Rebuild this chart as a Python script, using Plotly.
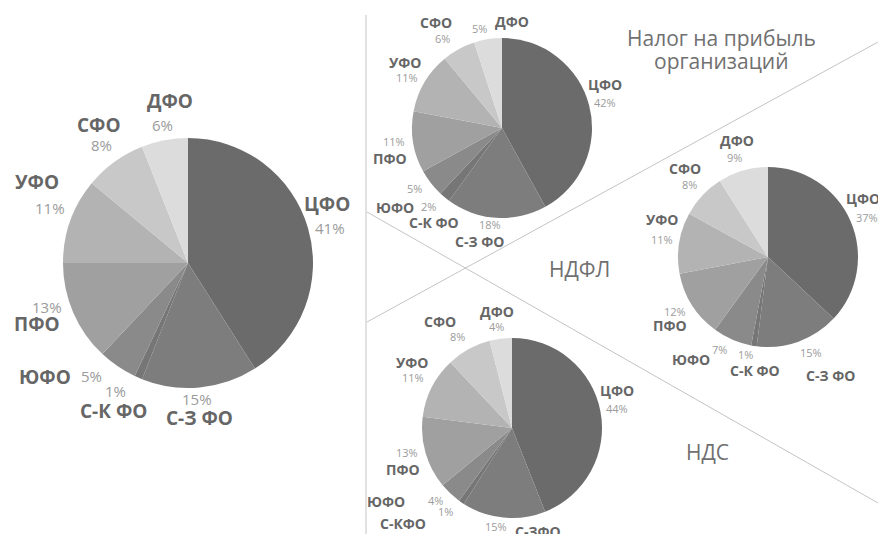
import math
import plotly.graph_objects as go

W, H = 878, 534

# ---------------- data ----------------
regions = ["ЦФО", "С-З ФО", "С-К ФО", "ЮФО", "ПФО", "УФО", "СФО", "ДФО"]
regions_vat = ["ЦФО", "С-ЗФО", "С-КФО", "ЮФО", "ПФО", "УФО", "СФО", "ДФО"]
total_share = [41, 15, 1, 5, 13, 11, 8, 6]
profit_tax_share = [42, 18, 2, 5, 11, 11, 6, 5]
ndfl_share = [37, 15, 1, 7, 12, 11, 8, 9]
vat_share = [44, 15, 1, 4, 13, 11, 8, 4]

# ---------------- style ----------------
slice_colors = ["#6b6b6b", "#7d7d7d", "#767676", "#8a8a8a",
                "#a0a0a0", "#b3b3b3", "#c8c8c8", "#dcdcdc"]
FONT = "Open Sans"
NAME_COLOR = "#666666"
PCT_COLOR = "#9b9b9b"

# label offsets (px) relative to the mid-point of each slice's outer arc:
# (name dx, name dy), (pct dx, pct dy)
OFF_BIG = [((19, -24), (22, 0)), ((0, 31), (-3, 12)), ((-25, 33), (-23, 13)),
           ((-73, 11), (-26, 10)), ((-36, 11), (-26, -6)), ((-33, -39), (-20, -13)),
           ((-16, -37), (-13, -17)), ((5, -39), (-2, -15))]
OFF_TOP = [((16, -21), (16, -3)), ((-17, 24), (-6, 7)), ((-11, 25), (-16, 9)),
           ((-36, 24), (-16, 5)), ((-23, 16), (-19, -1)), ((-20, -20), (-18, -5)),
           ((-23, -27), (-16, -11)), ((24, -18), (-8, -11))]
OFF_RIGHT = [((12, -23), (16, -4)), ((32, 34), (13, 11)), ((1, 25), (-8, 9)),
             ((-41, 20), (-13, 10)), ((-22, 20), (-17, 6)), ((-17, -23), (-17, -3)),
             ((-17, -27), (-13, -11)), ((-6, -30), (-8, -13))]
OFF_BOTTOM = [((17, -21), (17, -3)), ((34, 14), (-8, 9)), ((-58, 21), (-16, 9)),
              ((-64, 8), (-15, 7)), ((-23, 16), (-19, -1)), ((-20, -25), (-19, -10)),
              ((-29, -28), (-11, -13)), ((-4, -27), (-4, -12))]

pies = [
    dict(labels=regions, values=total_share, cx=188, cy=263, r=125,
         ns=19, ps=15, off=OFF_BIG),
    dict(labels=regions, values=profit_tax_share, cx=502, cy=128, r=90,
         ns=14, ps=11, off=OFF_TOP),
    dict(labels=regions, values=ndfl_share, cx=768, cy=257, r=90,
         ns=14, ps=11, off=OFF_RIGHT),
    dict(labels=regions_vat, values=vat_share, cx=512, cy=428, r=90,
         ns=14, ps=11, off=OFF_BOTTOM),
]


def px(x, y):
    return x / W, 1 - y / H


fig = go.Figure()
annotations = []

for p in pies:
    cx, cy, r = p["cx"], p["cy"], p["r"]
    fig.add_trace(go.Pie(
        labels=p["labels"], values=p["values"], sort=False,
        direction="clockwise", rotation=0,
        domain=dict(x=[(cx - r) / W, (cx + r) / W],
                    y=[1 - (cy + r) / H, 1 - (cy - r) / H]),
        marker=dict(colors=slice_colors, line=dict(width=0)),
        textinfo="none", showlegend=False, hoverinfo="label+percent",
    ))
    tot = sum(p["values"])
    cum = 0
    for lab, v, (noff, poff) in zip(p["labels"], p["values"], p["off"]):
        mid = (cum + v / 2) / tot * 2 * math.pi
        cum += v
        ax = cx + r * math.sin(mid)
        ay = cy - r * math.cos(mid)
        nx, ny = px(ax + noff[0], ay + noff[1])
        annotations.append(dict(
            text=lab, x=nx, y=ny, xref="paper", yref="paper",
            showarrow=False, xanchor="center", yanchor="middle", borderpad=0,
            font=dict(family=FONT, size=p["ns"], color=NAME_COLOR, weight="bold")))
        qx, qy = px(ax + poff[0], ay + poff[1])
        pct = round(v / tot * 100)
        annotations.append(dict(
            text=f"{pct}%", x=qx, y=qy, xref="paper", yref="paper",
            showarrow=False, xanchor="center", yanchor="middle", borderpad=0,
            font=dict(family=FONT, size=p["ps"], color=PCT_COLOR)))

line_style = dict(color="#c4c4c4", width=1)
shapes = [
    dict(type="line", xref="paper", yref="paper",
         x0=366 / W, y0=1 - 15 / H, x1=366 / W, y1=0, line=line_style),
    dict(type="line", xref="paper", yref="paper",
         x0=367 / W, y0=1 - 212 / H, x1=1, y1=1 - 503 / H, line=line_style),
    dict(type="line", xref="paper", yref="paper",
         x0=367 / W, y0=1 - 322 / H, x1=1, y1=1 - 42 / H, line=line_style),
]

title_font = dict(family=FONT, size=21, color="#707070")
for text, x, y in [("Налог на прибыль", 721, 38), ("организаций", 721, 61),
                   ("НДФЛ", 579, 269), ("НДС", 707, 452)]:
    tx, ty = px(x, y)
    annotations.append(dict(text=text, x=tx, y=ty, xref="paper", yref="paper",
                            showarrow=False, font=title_font, borderpad=0,
                            xanchor="center", yanchor="middle"))

fig.update_layout(
    width=W, height=H,
    margin=dict(l=0, r=0, t=0, b=0, autoexpand=False),
    paper_bgcolor="white", plot_bgcolor="white",
    shapes=shapes, annotations=annotations,
    font=dict(family=FONT),
)

fig.write_html("out.html", config={"displayModeBar": False},
               post_script="document.body.style.margin='0px';"
                           "document.body.style.overflow='hidden';")
